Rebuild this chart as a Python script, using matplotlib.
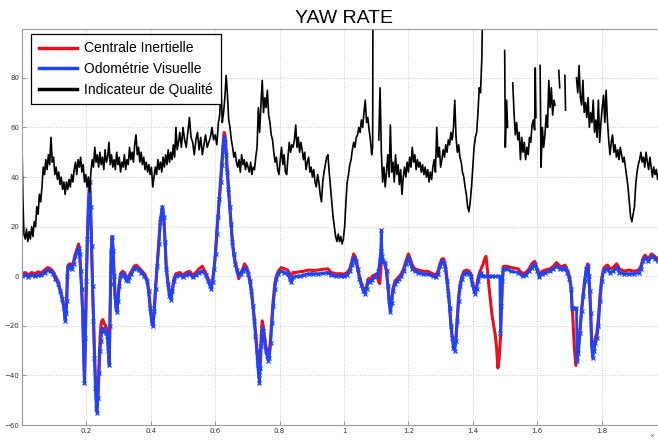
import numpy as np
import matplotlib
matplotlib.use('Agg')
import matplotlib.pyplot as plt

nan = float('nan')

# Indicateur de Qualite (black)
qual_t = [0.000, 0.003, 0.006, 0.010, 0.014, 0.018, 0.022, 0.026, 0.030, 0.034, 0.038, 0.042, 0.046, 0.050,
          0.054, 0.058, 0.062, 0.066, 0.070, 0.074, 0.078, 0.082, 0.086, 0.090, 0.094, 0.098, 0.102, 0.106,
          0.110, 0.114, 0.118, 0.122, 0.126, 0.130, 0.134, 0.138, 0.142, 0.146, 0.150, 0.154, 0.158, 0.162,
          0.166, 0.170, 0.174, 0.178, 0.182, 0.186, 0.190, 0.194, 0.198, 0.202, 0.206, 0.210, 0.214, 0.218,
          0.222, 0.226, 0.230, 0.234, 0.238, 0.242, 0.246, 0.250, 0.254, 0.258, 0.262, 0.266, 0.270, 0.274,
          0.278, 0.282, 0.286, 0.290, 0.294, 0.298, 0.302, 0.306, 0.310, 0.314, 0.318, 0.322, 0.326, 0.330,
          0.334, 0.338, 0.342, 0.346, 0.350, 0.354, 0.358, 0.362, 0.366, 0.370, 0.374, 0.378, 0.382, 0.386,
          0.390, 0.394, 0.398, 0.402, 0.406, 0.410, 0.414, 0.418, 0.422, 0.426, 0.430, 0.434, 0.438, 0.442,
          0.446, 0.450, 0.454, 0.458, 0.462, 0.466, 0.470, 0.474, 0.478, 0.482, 0.486, 0.490, 0.495, 0.500,
          0.505, 0.510, 0.515, 0.520, 0.525, 0.530, 0.535, 0.540, 0.545, 0.550, 0.555, 0.560, 0.565, 0.570,
          0.575, 0.580, 0.585, 0.590, 0.595, 0.600, 0.605, 0.610, 0.614, 0.618, 0.622, 0.626, 0.630, 0.634,
          0.638, 0.642, 0.646, 0.650, 0.654, 0.658, 0.662, 0.666, 0.670, 0.674, 0.678, 0.682, 0.686, 0.690,
          0.694, 0.698, 0.702, 0.706, 0.710, 0.714, 0.718, 0.722, 0.726, 0.730, 0.734, 0.738, 0.742, 0.746,
          0.750, 0.754, 0.758, 0.762, 0.766, 0.770, 0.774, 0.778, 0.782, 0.786, 0.790, 0.794, 0.798, 0.802,
          0.806, 0.810, 0.814, 0.818, 0.822, 0.826, 0.830, 0.834, 0.838, 0.842, 0.846, 0.850, 0.854, 0.858,
          0.862, 0.866, 0.870, 0.874, 0.878, 0.882, 0.886, 0.890, 0.894, 0.898, 0.902, 0.906, 0.910, 0.914,
          0.918, 0.922, 0.926, 0.930, 0.934, 0.938, 0.942, 0.946, 0.950, 0.954, 0.958, 0.962, 0.966, 0.970,
          0.974, 0.978, 0.982, 0.986, 0.990, 0.994, 0.998, 1.002, 1.006, 1.010, 1.014, 1.018, 1.022, 1.026,
          1.030, 1.034, 1.038, 1.042, 1.046, 1.050, 1.054, 1.058, 1.062, 1.066, 1.070, 1.074, 1.078, 1.082,
          1.086, 1.089, 1.090, 1.091, 1.108, 1.112, 1.116, 1.120, 1.124, 1.128, 1.132, 1.136, 1.140, 1.144,
          1.148, 1.152, 1.156, 1.160, 1.164, 1.168, 1.172, 1.176, 1.180, 1.184, 1.188, 1.192, 1.196, 1.200,
          1.204, 1.208, 1.212, 1.216, 1.220, 1.224, 1.228, 1.232, 1.236, 1.240, 1.244, 1.248, 1.252, 1.256,
          1.260, 1.264, 1.268, 1.272, 1.276, 1.280, 1.284, 1.288, 1.292, 1.296, 1.300, 1.304, 1.308, 1.312,
          1.316, 1.320, 1.324, 1.328, 1.332, 1.336, 1.340, 1.344, 1.348, 1.352, 1.356, 1.360, 1.364, 1.368,
          1.372, 1.376, 1.380, 1.384, 1.388, 1.392, 1.396, 1.400, 1.404, 1.408, 1.412, 1.416, 1.420, 1.424,
          1.428, 1.432, 1.434, 1.499, 1.501, 1.505, 1.508, 1.509, 1.524, 1.528, 1.532, 1.536, 1.540, 1.544,
          1.548, 1.552, 1.556, 1.560, 1.564, 1.568, 1.572, 1.576, 1.580, 1.584, 1.588, 1.592, 1.594, 1.596,
          1.598, 1.609, 1.612, 1.616, 1.620, 1.624, 1.628, 1.632, 1.636, 1.640, 1.644, 1.648, 1.652, 1.655,
          1.656, 1.667, 1.670, 1.671, 1.686, 1.688, 1.689, 1.722, 1.726, 1.730, 1.734, 1.738, 1.742, 1.746,
          1.750, 1.754, 1.758, 1.762, 1.766, 1.770, 1.774, 1.778, 1.782, 1.786, 1.790, 1.794, 1.798, 1.802,
          1.806, 1.810, 1.814, 1.818, 1.822, 1.826, 1.830, 1.834, 1.838, 1.842, 1.846, 1.850, 1.854, 1.858,
          1.862, 1.866, 1.870, 1.874, 1.878, 1.882, 1.886, 1.890, 1.894, 1.898, 1.902, 1.906, 1.910, 1.914,
          1.918, 1.922, 1.926, 1.930, 1.934, 1.938, 1.942, 1.946, 1.950, 1.954, 1.958, 1.962, 1.966, 1.970,
          1.974, 1.978, 1.982]
qual_v = [53, 30, 17, 15, 19, 14, 18, 15, 20, 16, 22, 20, 28, 25,
          33, 30, 36, 44, 41, 47, 43, 49, 45, 56, 46, 48, 41, 44,
          39, 42, 37, 40, 35, 38, 33, 38, 35, 39, 36, 41, 38, 43,
          46, 41, 47, 44, 48, 42, 45, 38, 41, 36, 40, 34, 42, 47,
          44, 52, 46, 49, 44, 50, 45, 48, 43, 51, 46, 48, 54, 45,
          49, 44, 47, 43, 50, 45, 48, 42, 46, 44, 49, 43, 47, 45,
          52, 47, 50, 46, 53, 57, 49, 52, 46, 50, 45, 48, 43, 46,
          42, 45, 41, 44, 36, 40, 44, 41, 47, 43, 46, 42, 48, 44,
          49, 45, 51, 46, 50, 47, 53, 48, 60, 51, 54, 58, 52, 60,
          55, 52, 58, 64, 56, 54, 49, 55, 58, 51, 56, 49, 53, 57,
          52, 54, 56, 60, 55, 57, 53, 62, 65, 77, 62, 66, 72, 81,
          73, 63, 60, 55, 52, 48, 50, 46, 44, 47, 42, 49, 45, 47,
          43, 46, 44, 42, 46, 41, 44, 43, 48, 52, 68, 58, 69, 79,
          66, 72, 68, 75, 65, 62, 57, 55, 50, 46, 48, 43, 41, 47,
          52, 45, 49, 42, 41, 48, 54, 50, 53, 52, 55, 61, 52, 56,
          50, 54, 51, 47, 50, 43, 46, 48, 42, 44, 40, 43, 38, 36,
          41, 38, 33, 30, 38, 42, 45, 48, 49, 42, 36, 30, 24, 20,
          16, 14, 17, 14, 16, 13, 15, 20, 30, 38, 41, 45, 47, 51,
          54, 52, 56, 57, 60, 58, 63, 60, 66, 71, 62, 64, 59, 55,
          49, 52, 120, nan, 55, 76, 50, 38, 44, 36, 42, 49, 40, 61,
          42, 46, 38, 49, 41, 45, 37, 43, 33, 40, 44, 40, 46, 42,
          48, 44, 52, 46, 49, 43, 47, 44, 46, 42, 45, 41, 44, 40,
          43, 38, 42, 39, 44, 47, 42, 60, 48, 52, 44, 47, 51, 48,
          53, 50, 55, 53, 58, 55, 60, 71, 56, 50, 53, 48, 46, 42,
          40, 36, 33, 28, 26, 30, 36, 44, 52, 56, 58, 66, 76, 74,
          88, 120, nan, 91, 52, 71, 60, nan, 78, 66, 57, 62, 55, 58,
          47, 56, 50, 54, 47, 52, 49, 56, 54, 61, 63, 59, 84, 64,
          nan, 85, 44, 60, 52, 57, 65, 60, 79, 68, 76, 65, 71, 69,
          nan, 83, 76, nan, 81, 67, nan, 80, 74, 85, 72, 69, 79, 66,
          70, 64, 72, 60, 66, 62, 71, 58, 63, 56, 71, 54, 62, 68,
          73, 62, 75, 63, 55, 49, 54, 57, 50, 53, 48, 51, 47, 52,
          49, 46, 48, 44, 40, 36, 30, 24, 22, 25, 28, 37, 42, 45,
          47, 50, 46, 48, 44, 50, 46, 43, 48, 44, 40, 44, 41, 43,
          39, 42, 40]

# Odometrie Visuelle (blue)
odo_t = [0.000, 0.010, 0.020, 0.030, 0.040, 0.050, 0.060, 0.070, 0.080, 0.088, 0.096, 0.104, 0.112, 0.118,
         0.124, 0.130, 0.134, 0.137, 0.139, 0.141, 0.143, 0.148, 0.154, 0.160, 0.166, 0.172, 0.176, 0.179,
         0.182, 0.185, 0.188, 0.191, 0.194, 0.197, 0.200, 0.203, 0.207, 0.210, 0.213, 0.216, 0.219, 0.222,
         0.225, 0.228, 0.231, 0.233, 0.236, 0.239, 0.242, 0.245, 0.248, 0.251, 0.255, 0.260, 0.265, 0.268,
         0.271, 0.273, 0.275, 0.277, 0.280, 0.283, 0.286, 0.289, 0.292, 0.295, 0.298, 0.302, 0.306, 0.312,
         0.318, 0.323, 0.328, 0.333, 0.340, 0.348, 0.355, 0.362, 0.370, 0.380, 0.388, 0.393, 0.398, 0.403,
         0.407, 0.411, 0.415, 0.420, 0.425, 0.430, 0.436, 0.440, 0.444, 0.448, 0.453, 0.458, 0.463, 0.467,
         0.472, 0.478, 0.490, 0.500, 0.510, 0.520, 0.530, 0.540, 0.550, 0.560, 0.570, 0.578, 0.584, 0.588,
         0.592, 0.597, 0.601, 0.605, 0.609, 0.613, 0.617, 0.621, 0.625, 0.628, 0.631, 0.634, 0.637, 0.641,
         0.645, 0.649, 0.653, 0.657, 0.662, 0.667, 0.673, 0.680, 0.686, 0.691, 0.696, 0.702, 0.707, 0.712,
         0.717, 0.721, 0.725, 0.729, 0.732, 0.735, 0.737, 0.740, 0.743, 0.746, 0.749, 0.753, 0.757, 0.761,
         0.765, 0.768, 0.772, 0.776, 0.780, 0.785, 0.790, 0.796, 0.805, 0.815, 0.825, 0.831, 0.836, 0.842,
         0.850, 0.862, 0.875, 0.890, 0.905, 0.920, 0.935, 0.950, 0.960, 0.975, 0.990, 1.000, 1.010, 1.018,
         1.024, 1.030, 1.036, 1.042, 1.048, 1.054, 1.060, 1.065, 1.070, 1.076, 1.082, 1.088, 1.095, 1.102,
         1.107, 1.111, 1.114, 1.116, 1.118, 1.122, 1.127, 1.132, 1.136, 1.140, 1.144, 1.148, 1.152, 1.158,
         1.165, 1.172, 1.178, 1.185, 1.192, 1.200, 1.206, 1.212, 1.220, 1.230, 1.245, 1.260, 1.275, 1.285,
         1.292, 1.298, 1.304, 1.310, 1.315, 1.320, 1.324, 1.328, 1.332, 1.336, 1.340, 1.344, 1.348, 1.352,
         1.356, 1.361, 1.366, 1.372, 1.380, 1.388, 1.394, 1.398, 1.404, 1.408, 1.412, 1.416, 1.421, 1.426,
         1.430, 1.440, 1.450, 1.460, 1.470, 1.484, 1.486, 1.489, 1.492, 1.495, 1.505, 1.520, 1.540, 1.555,
         1.565, 1.575, 1.583, 1.592, 1.600, 1.607, 1.615, 1.625, 1.640, 1.650, 1.660, 1.670, 1.680, 1.686,
         1.694, 1.700, 1.705, 1.708, 1.714, 1.722, 1.724, 1.728, 1.733, 1.738, 1.743, 1.748, 1.753, 1.757,
         1.760, 1.763, 1.766, 1.769, 1.772, 1.776, 1.780, 1.785, 1.790, 1.795, 1.800, 1.806, 1.812, 1.818,
         1.825, 1.836, 1.847, 1.855, 1.870, 1.885, 1.900, 1.915, 1.922, 1.928, 1.935, 1.945, 1.955, 1.965,
         1.975, 1.985]
odo_v = [0, 0.5, -0.3, 0.4, 0, 0.5, 0.3, 1.5, 2.5, 2, 1, -1, -3, -6,
         -9, -13, -18, -15, -10, 0, 3.5, 4, 3, 5, 8, 10, 11.5, 9,
         2, -5, -14, -28, -43, -25, -2, 15, 30, 38, 28, 12, -4, -18,
         -33, -45, -53, -55, -49, -39, -30, -26, -22, -21, -22, -23, -24, -30,
         -36, -20, -3, 10, 16, 10, 0, -8, -13, -14.5, -10, -4, 0, 1,
         0.5, -1.5, -2, -0.5, 1, 3, 3.5, 2.5, 1.5, 0, -2, -6, -13, -19,
         -20, -14, -5, 4, 13, 22, 28, 24, 14, 3, -3, -8, -9.5, -6,
         -2, 0, 0.5, -0.5, 0.5, 1, -0.5, 0.5, 1.5, 2, 0.5, -2, -4, -5,
         -2.5, 3, 9, 17, 24, 31, 38, 45, 52, 56, 54, 49, 42, 35,
         28, 21, 14, 9, 5, 2.5, 0.5, 1, 2, 3.5, 3, 1, -2, -6,
         -12, -18, -24, -30, -36, -40, -43, -37, -28, -21, -22, -26, -30, -32,
         -34, -33, -27, -19, -12, -5, -1, 1, 2, 1.5, 1, -1, -2.5, -0.5,
         0, 0, 0.5, 1, 1, 1, 1.2, 1.5, 0.5, 0, 0, 0, 0.5, 2,
         4.5, 7.5, 6, 3, -1, -3.5, -6, -7, -5, -2, -2.5, -1.5, -0.5, 0,
         2, 6, 10, 18.5, 8, 6, 5.5, 2, -4, -10, -14.5, -11, -6, -3,
         -2, -1, 0, 2, 5, 7.5, 5.5, 3, 2, 1.5, 1, 0.8, 0, -0.5,
         1, 4, 6, 5.5, 3, -2, -7, -13, -20, -25, -29, -30, -26, -18,
         -10, -4, -1, 1, 1.5, 1, 0, -3, -6, -7, -5, -2, 0.5, 1.5,
         0, 0, 0, 0, 0, 0, -23, -12, -2, 3, 3, 2, 1.5, 0,
         0.5, 2, 3.5, 5, 2, -0.5, 1, 1.5, 2, 3, 4, 3, 3, 3.5,
         1.5, -1, -5, -13, -13, -13, -34, -31, -23, -14, -8, -2, 3, 4,
         0, -6, -15, -27, -33, -30, -27, -25, -20, -10, -2, 2, 3, 3,
         1.5, 2, 3.5, 1.5, 1, 1, 1, 1.5, 3, 6, 7.5, 6, 8, 7,
         6, 6.5]

# Centrale Inertielle (red)
ins_t = [0.000, 0.010, 0.020, 0.030, 0.040, 0.050, 0.060, 0.070, 0.080, 0.088, 0.096, 0.104, 0.112, 0.118,
         0.124, 0.130, 0.134, 0.137, 0.139, 0.141, 0.143, 0.148, 0.154, 0.160, 0.166, 0.172, 0.176, 0.179,
         0.182, 0.185, 0.188, 0.191, 0.194, 0.197, 0.200, 0.203, 0.207, 0.210, 0.213, 0.216, 0.219, 0.222,
         0.225, 0.228, 0.231, 0.233, 0.236, 0.239, 0.242, 0.245, 0.248, 0.251, 0.255, 0.260, 0.265, 0.268,
         0.271, 0.273, 0.275, 0.277, 0.280, 0.283, 0.286, 0.289, 0.292, 0.295, 0.298, 0.302, 0.306, 0.312,
         0.318, 0.323, 0.328, 0.333, 0.340, 0.348, 0.355, 0.362, 0.370, 0.380, 0.388, 0.393, 0.398, 0.403,
         0.407, 0.411, 0.415, 0.420, 0.425, 0.430, 0.436, 0.440, 0.444, 0.448, 0.453, 0.458, 0.463, 0.467,
         0.472, 0.478, 0.490, 0.500, 0.510, 0.520, 0.530, 0.540, 0.550, 0.560, 0.570, 0.578, 0.584, 0.588,
         0.592, 0.597, 0.601, 0.605, 0.609, 0.613, 0.617, 0.621, 0.625, 0.628, 0.631, 0.634, 0.637, 0.641,
         0.645, 0.649, 0.653, 0.657, 0.662, 0.667, 0.673, 0.680, 0.686, 0.691, 0.696, 0.702, 0.707, 0.712,
         0.717, 0.721, 0.725, 0.729, 0.732, 0.735, 0.737, 0.740, 0.743, 0.746, 0.749, 0.753, 0.757, 0.761,
         0.765, 0.768, 0.772, 0.776, 0.780, 0.785, 0.790, 0.796, 0.805, 0.815, 0.825, 0.831, 0.836, 0.842,
         0.850, 0.862, 0.875, 0.890, 0.905, 0.920, 0.935, 0.950, 0.960, 0.975, 0.990, 1.000, 1.010, 1.018,
         1.024, 1.030, 1.036, 1.042, 1.048, 1.054, 1.060, 1.065, 1.070, 1.076, 1.082, 1.088, 1.095, 1.102,
         1.107, 1.111, 1.114, 1.116, 1.118, 1.122, 1.127, 1.132, 1.136, 1.140, 1.144, 1.148, 1.152, 1.158,
         1.165, 1.172, 1.178, 1.185, 1.192, 1.200, 1.206, 1.212, 1.220, 1.230, 1.245, 1.260, 1.275, 1.285,
         1.292, 1.298, 1.304, 1.310, 1.315, 1.320, 1.324, 1.328, 1.332, 1.336, 1.340, 1.344, 1.348, 1.352,
         1.356, 1.361, 1.366, 1.372, 1.380, 1.388, 1.394, 1.398, 1.404, 1.408, 1.412, 1.416, 1.421, 1.426,
         1.432, 1.437, 1.441, 1.445, 1.450, 1.455, 1.460, 1.465, 1.470, 1.474, 1.478, 1.482, 1.486, 1.489,
         1.492, 1.495, 1.505, 1.520, 1.540, 1.555, 1.565, 1.575, 1.583, 1.592, 1.600, 1.607, 1.615, 1.625,
         1.640, 1.650, 1.660, 1.670, 1.680, 1.686, 1.694, 1.700, 1.705, 1.710, 1.715, 1.720, 1.724, 1.728,
         1.733, 1.738, 1.743, 1.748, 1.753, 1.757, 1.760, 1.763, 1.766, 1.769, 1.772, 1.776, 1.780, 1.785,
         1.790, 1.795, 1.800, 1.806, 1.812, 1.818, 1.825, 1.836, 1.847, 1.855, 1.870, 1.885, 1.900, 1.915,
         1.922, 1.928, 1.935, 1.945, 1.955, 1.965, 1.975, 1.985]
ins_v = [1, 1.5, 0.5, 1.5, 1, 1.8, 1.2, 2.5, 3.5, 3, 2, 0, -2, -5,
         -8, -12, -17, -14, -9, 1, 4.5, 5, 4, 6, 9, 11.5, 13, 10,
         3, -4, -13, -27, -42, -24, -1, 16, 31, 38, 29, 13, -3, -17,
         -31, -42, -51, -53, -47, -36, -26, -20, -18, -17.5, -19, -20, -22, -29,
         -35, -19, -2, 10, 16, 11, 1, -7, -12, -13.5, -9, -3, 1, 2,
         1.5, -0.5, -1, 0.5, 2, 4, 4.5, 3.5, 2.5, 1, -1, -5, -12, -18,
         -19, -13, -4, 5, 14, 23, 28, 25, 15, 4, -2, -7, -8.5, -5,
         -1, 1, 1.5, 0.5, 1.5, 2, 0.5, 1.5, 3, 4, 1.5, -1, -3, -4,
         -1.5, 4, 10, 18, 25, 32, 39, 47, 54, 58, 56, 51, 44, 37,
         29, 22, 15, 10, 6, 3, -1, 1.5, 3, 5, 4, 2, -1, -5,
         -11, -16, -22, -28, -33, -37, -38, -33, -24, -18, -20, -24, -28, -30,
         -32, -31, -25, -17, -10, -3, 0, 2, 3.5, 3, 2.5, 1, 0, 1.5,
         1.5, 1.8, 2, 2.5, 2.3, 2.5, 2.8, 3, 1.5, 1, 1, 0.8, 1.5, 3,
         6, 9, 7.5, 4, 0, -3, -5, -6, -4, -1, -1, 0, 0.5, 1,
         -2, -3, 2, 6, 7, 6, 5, 2, -3, -9, -13.5, -10, -5, -2,
         -1, 0, 1, 3, 6, 9, 7, 4.5, 3, 2.5, 2, 2, 1, 0.5,
         2, 5, 7, 7, 4, -1, -6, -12, -19, -24, -27, -28, -24, -16,
         -8, -3, 0, 2, 2.5, 2, 1, -2, -5, -6, -4, -1, 1.5, 3,
         5, 7, 8, 3, -4, -10, -16, -20, -24, -29, -37, -33, -25, -13,
         -1, 4, 4, 3.5, 3, 1, 1.5, 3, 5, 6, 3, 0.5, 2, 2.5,
         3, 4, 5.5, 4, 4, 4.5, 2.5, 0, -4, -15, -28, -36, -32, -28,
         -21, -13, -7, -1, 3.5, 5, 1, -5, -14, -26, -32, -30, -25, -23,
         -17, -8, -1, 3, 4, 4.5, 3, 3.5, 5, 3, 2, 2.5, 2, 2.5,
         4, 7, 8.5, 7, 9, 8, 7, 7.5]

x_ticks = [0.2, 0.4, 0.6, 0.8, 1, 1.2, 1.4, 1.6, 1.8]
x_labels = ['0.2', '0.4', '0.6', '0.8', '1', '1.2', '1.4', '1.6', '1.8']
y_ticks = [-60, -40, -20, 0, 20, 40, 60, 80]

W, H = 658, 442
fig = plt.figure(figsize=(W / 100, H / 100), dpi=100)
ax = fig.add_axes([22 / W, 17 / H, 644 / W, 396 / H])

ax.plot(ins_t, ins_v, color='#e8101c', linewidth=2.2, label='Centrale Inertielle')
ax.plot(odo_t, odo_v, color='#1a44ff', linewidth=2.0, marker='x', markersize=2.5,
        markeredgewidth=0.9, label='Odométrie Visuelle')
ax.plot(qual_t, qual_v, color='black', linewidth=1.2, label='Indicateur de Qualité')

ax.set_xlim(0, 2.0)
ax.set_ylim(-60, 99.7)
ax.set_xticks(x_ticks)
ax.set_xticklabels(x_labels)
ax.set_yticks(y_ticks)
ax.tick_params(direction='in', length=3, width=0.6, color='#888888',
               labelsize=5, labelcolor='#333333', pad=2)
for s in ax.spines.values():
    s.set_color('#999999')
    s.set_linewidth(0.8)
ax.grid(True, linestyle=':', color='#c8c8c8', linewidth=0.7)

ax.set_title('YAW RATE', fontsize=14, family='Liberation Sans', pad=4)

leg = ax.legend(loc='upper left', bbox_to_anchor=(9 / 644, 1 - 5 / 396),
                prop={'family': 'Liberation Sans', 'size': 10},
                fancybox=False, edgecolor='black', framealpha=1,
                handlelength=2.8, handletextpad=0.5, labelspacing=0.47,
                borderpad=0.54, borderaxespad=0)
leg.get_frame().set_linewidth(0.9)
for ln in leg.get_lines():
    ln.set_linewidth(2.5)
    ln.set_marker('')

fig.text(0.994, 0.012, 'x', fontsize=4, color='#555555', ha='right')

fig.savefig('out.png', dpi=100)
